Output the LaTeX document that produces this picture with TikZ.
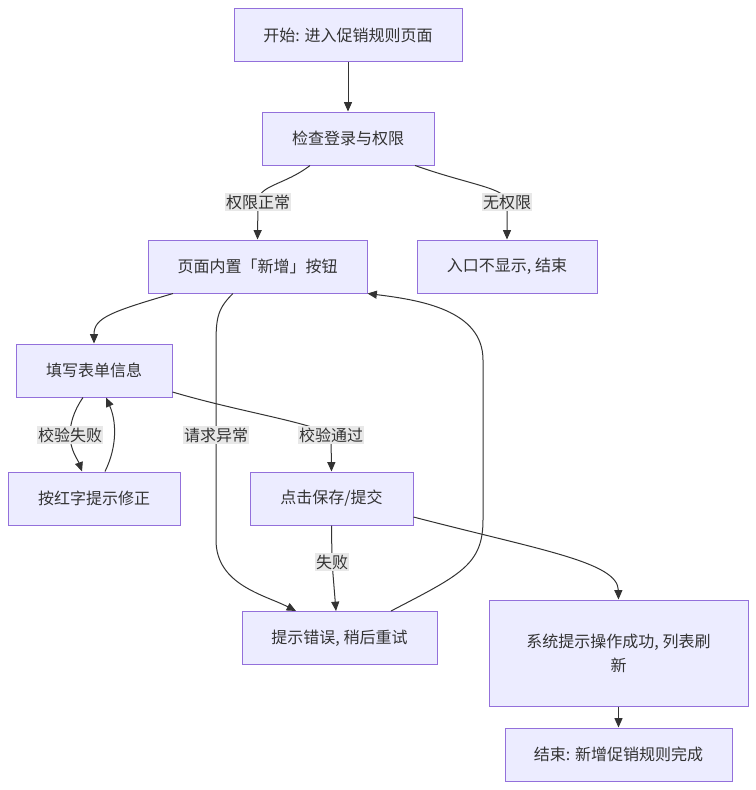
\documentclass[tikz,border=0pt]{standalone}
\usepackage{fontspec}
\setmainfont{Noto Sans CJK SC}
\usetikzlibrary{arrows.meta,calc}
\definecolor{boxfill}{HTML}{ECECFF}
\definecolor{boxline}{HTML}{9370DB}
\definecolor{txt}{HTML}{333333}
\definecolor{lblbg}{HTML}{E8E8E8}
\begin{document}
\begin{tikzpicture}[x=0.75pt,y=-0.75pt,
	box/.style={draw=boxline,fill=boxfill,line width=0.75pt,text=txt,
		minimum height=39.75pt,inner sep=0pt,align=center,
		font=\fontsize{12}{18}\selectfont},
	lbl/.style={fill=lblbg,text=txt,inner sep=1pt,
		font=\fontsize{12}{14}\selectfont},
	flow/.style={draw=txt,line width=0.75pt,-{Triangle[length=7pt,width=6pt]}}]
	\useasboundingbox (0,0) rectangle (756,790);
	% boxes
	\node[box,minimum width=171pt] (start) at (348,35) {开始: 进入促销规则页面};
	\node[box,minimum width=129pt] (check) at (348,138.5) {检查登录与权限};
	\node[box,minimum width=164.25pt] (page) at (257.5,266.5) {页面内置「新增」按钮};
	\node[box,minimum width=135pt] (noentry) at (507,266.5) {入口不显示, 结束};
	\node[box,minimum width=117pt] (fill) at (94,370.5) {填写表单信息};
	\node[box,minimum width=129pt] (fix) at (94,498.5) {按红字提示修正};
	\node[box,minimum width=122.25pt] (save) at (331.5,498.5) {点击保存/提交};
	\node[box,minimum width=146.25pt] (err) at (339.5,638) {提示错误, 稍后重试};
	\node[box,minimum width=194.25pt,minimum height=79.5pt] (success) at (618.5,653) {系统提示操作成功, 列表刷\\新};
	\node[box,minimum width=170.25pt] (done) at (618.5,754.5) {结束: 新增促销规则完成};
	
	% connectors
	\draw[flow] (start) -- (check);
	\draw[flow] ($(check.south)+(-38,0)$) .. controls (285,185) and (258,185) .. (258,202)
		node[lbl] {权限正常} -- (page.north);
	\draw[flow] ($(check.south)+(67,0)$) .. controls (470,185) and (507,188) .. (507,202)
		node[lbl] {无权限} -- (noentry.north);
	\draw[flow] ($(page.south)+(-84.5,0)$) .. controls (110,312) and (94,318) .. (fill.north);
	\draw[flow] ($(page.south)+(-24.5,0)$) .. controls (216,310) and (216,320) .. (216,350)
		-- (216,435) node[lbl] {请求异常} -- (216,540)
		.. controls (216,585) and (265,595) .. ($(err.north)+(-43.5,0)$);
	\draw[flow] ($(fill.south)+(-11,0)$) .. controls (73,412) and (70,425) .. (70,435)
		node[lbl] {校验失败} .. controls (70,450) and (78,460) .. ($(fix.north)+(-12,0)$);
	\draw[flow] ($(fix.north)+(11,0)$) .. controls (118,445) and (116,420) .. ($(fill.south)+(12,0)$);
	\draw[flow] ($(fill.east)+(0,21.5)$) .. controls (240,412) and (310,422) .. (331,435)
		node[lbl] {校验通过} -- (save.north);
	\draw[flow] (save.south) -- (332,562) node[lbl] {失败} -- ($(err.north)+(-3.5,0)$);
	\draw[flow] ($(err.north)+(51.5,0)$) .. controls (460,575) and (483,565) .. (483,520)
		-- (483,360) .. controls (483,310) and (420,300) .. (page.south east);
	\draw[flow] ($(save.east)+(0,18.5)$) .. controls (540,550) and (618,562) .. (success.north);
	\draw[flow] (success) -- (done);
	
\end{tikzpicture}
\end{document}
